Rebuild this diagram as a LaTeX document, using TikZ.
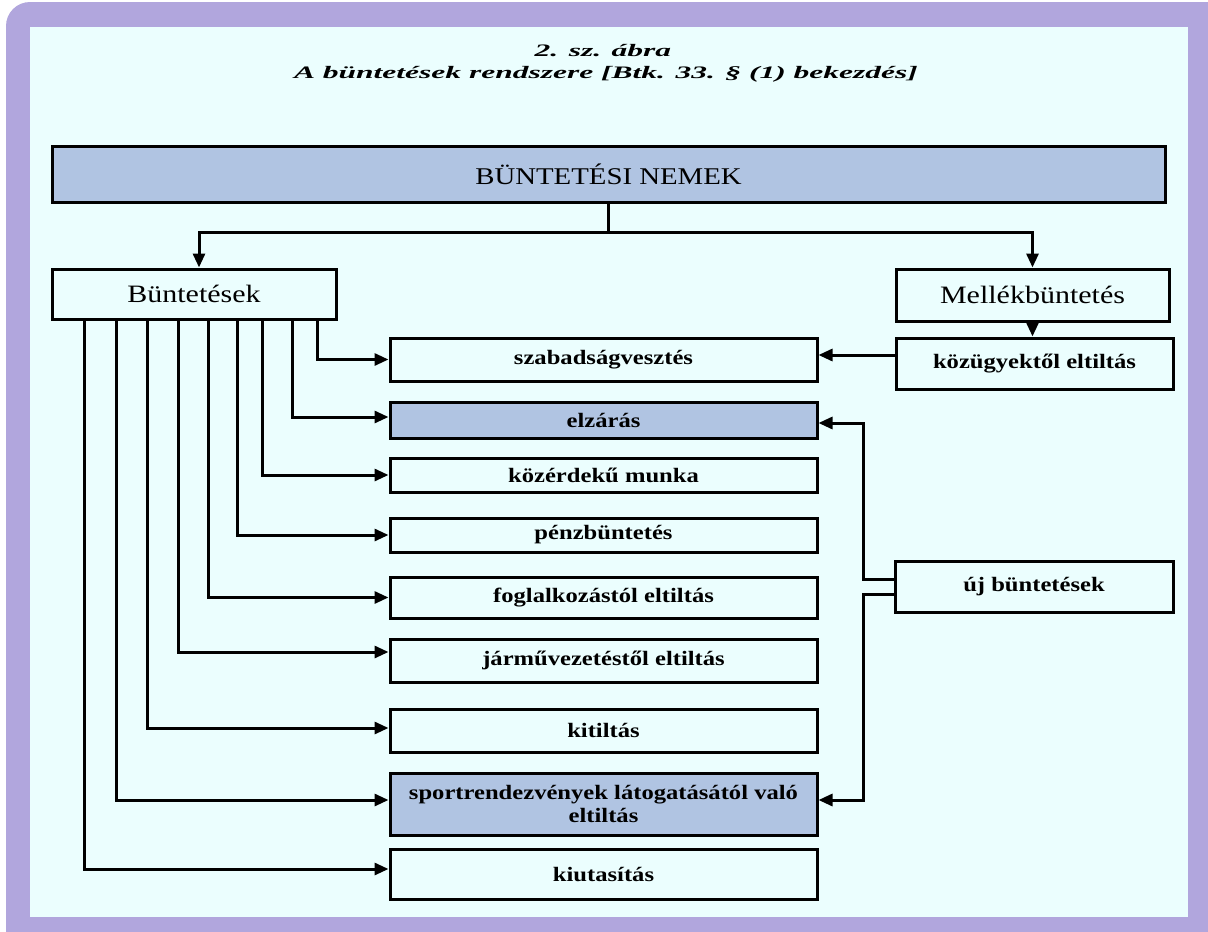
\documentclass[tikz,border=0pt]{standalone}
\usepackage{fontspec}
\setmainfont{Liberation Serif}[FakeStretch=1.2]
\newfontfamily\titlefont{Liberation Serif}[FakeStretch=1.8]
\usepackage{tikz}
\usetikzlibrary{arrows.meta}

\definecolor{framepurple}{HTML}{B1A6DD}
\definecolor{panelcyan}{HTML}{EBFEFE}
\definecolor{boxblue}{HTML}{B0C4E2}

\tikzset{
  box/.style={draw, line width=3pt, inner sep=0pt, align=center,
    font=\fontsize{20.5}{23}\selectfont\bfseries},
  bluebox/.style={box, fill=boxblue},
  rowbox/.style={minimum width=427pt},
}

\begin{document}
\begin{tikzpicture}[x=1pt,y=-1pt,line width=3pt,>={Triangle[length=14pt,width=12pt]}]
      \useasboundingbox (0,0) rectangle (1208,932);
      \fill[white] (0,0) rectangle (1208,932);
      \fill[framepurple,rounded corners=24pt] (6,2) rectangle (1240,960);
      \fill[panelcyan] (30,27) rectangle (1188,917);
      % title
      \node[anchor=base,font=\titlefont\fontsize{17.5}{20}\selectfont\bfseries\itshape] (ttl) at (603,56) {2. sz. ábra};
      \node[anchor=base,font=\titlefont\fontsize{17.5}{20}\selectfont\bfseries\itshape] (sub) at (606,78) {A büntetések rendszere [Btk. 33. § (1) bekezdés]};
      % top row
      \node[bluebox,minimum width=1113pt,minimum height=56pt,font=\fontsize{24}{28}\selectfont] (nemek) at (608.5,174) {BÜNTETÉSI NEMEK};
      \node[box,minimum width=284pt,minimum height=50pt,font=\fontsize{25}{29}\selectfont] (bunt) at (194,294) {Büntetések};
      \node[box,minimum width=273pt,minimum height=52pt,font=\fontsize{25}{29}\selectfont] (mell) at (1032.5,295) {Mellékbüntetés};
      \node[box,minimum width=277pt,minimum height=51pt] (kozugy) at (1034.5,363.5) {közügyektől eltiltás};
      \node[box,minimum width=278pt,minimum height=51pt] (uj) at (1034,586.5) {új büntetések};
      % penalties
      \node[box,rowbox,minimum height=43pt] (szab) at (603.5,359.5) {szabadságvesztés};
      \node[bluebox,rowbox,minimum height=36pt] (elz) at (603.5,420) {elzárás};
      \node[box,rowbox,minimum height=34pt] (koz) at (603.5,475) {közérdekű munka};
      \node[box,rowbox,minimum height=34pt] (penz) at (603.5,535) {pénzbüntetés};
      \node[box,rowbox,minimum height=41pt] (fogl) at (603.5,597.5) {foglalkozástól eltiltás};
      \node[box,rowbox,minimum height=43pt] (jarmu) at (603.5,660.5) {járművezetéstől eltiltás};
      \node[box,rowbox,minimum height=43pt] (kitilt) at (603.5,730.5) {kitiltás};
      \node[bluebox,rowbox,minimum height=62pt] (sport) at (603.5,804) {sportrendezvények látogatásától való\\eltiltás};
      \node[box,rowbox,minimum height=50pt] (kiut) at (603.5,874) {kiutasítás};
      % connectors
      \draw[->] (nemek.south) -- ++(0,29) -| ([xshift=5pt]bunt.north);
      \draw[->] (nemek.south) -- ++(0,29) -| (mell.north);
      \draw[->] (mell.south) -- (mell.south |- kozugy.north);
      \draw[->] ([yshift=8.5pt]kozugy.west) -- ([yshift=8.5pt]kozugy.west -| szab.east);
      \foreach \t/\x/\dy in {szab/317/0,elz/292/3,koz/262/0,penz/237/0,fogl/208/0,jarmu/178/8.5,kitilt/147/2.5,sport/116/4,kiut/84/5}{\draw[->] (bunt.south -| \x,0) |- ([yshift=\dy pt]\t.west);}
      \draw[->] ([yshift=7.5pt]uj.west) -- ++(-30,0) |- ([yshift=-3pt]elz.east);
      \draw[->] ([yshift=-7.5pt]uj.west) -- ++(-30,0) |- ([yshift=4pt]sport.east);
    \end{tikzpicture}
\end{document}
